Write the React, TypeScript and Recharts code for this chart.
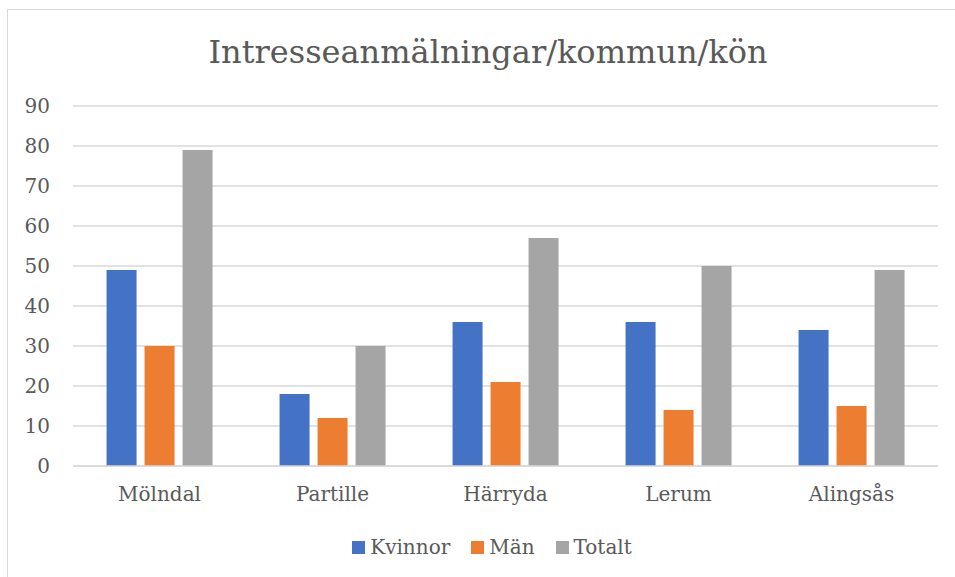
import { BarChart, Bar, XAxis, YAxis, CartesianGrid, Legend } from 'recharts';

const kommuner = ['Mölndal', 'Partille', 'Härryda', 'Lerum', 'Alingsås'];
const kvinnor = [49, 18, 36, 36, 34];
const man = [30, 12, 21, 14, 15];
const totalt = [79, 30, 57, 50, 49];
const yTicks = [0, 10, 20, 30, 40, 50, 60, 70, 80, 90];

const data = kommuner.map((name, i) => ({
  name,
  Kvinnor: kvinnor[i],
  Män: man[i],
  Totalt: totalt[i],
}));

const FONT = '"DejaVu Serif", serif';
const TEXT = '#595959';

function LegendContent({ payload }: any) {
  return (
    <div style={{ display: 'flex', justifyContent: 'center', fontFamily: FONT, fontSize: 20, color: TEXT, lineHeight: '24px' }}>
      {(payload || []).map((p: any, i: number) => (
        <div key={p.value} style={{ display: 'flex', alignItems: 'center', marginLeft: i === 0 ? 0 : 21, fontFamily: FONT }}>
          <span style={{ width: 13, height: 13, background: p.color, display: 'inline-block', marginRight: 5 }} />
          <span style={{ fontFamily: FONT }}>{p.value}</span>
        </div>
      ))}
    </div>
  );
}

export default function App() {
  return (
    <div style={{ position: 'absolute', left: 0, top: 0, width: 955, height: 577, background: '#fff', overflow: 'hidden' }}>
      <div
        style={{
          position: 'absolute',
          left: 7,
          top: 9,
          width: 980,
          height: 600,
          borderTop: '1.5px solid #d9d9d9',
          borderLeft: '1.5px solid #d9d9d9',
        }}
      />
      <div
        style={{
          position: 'absolute',
          left: 0,
          width: 976,
          top: 27,
          textAlign: 'center',
          fontFamily: FONT,
          fontSize: 32,
          color: TEXT,
          lineHeight: '50px',
        }}
      >
        Intresseanmälningar/kommun/kön
      </div>
      <div style={{ position: 'absolute', left: 0, top: 0 }}>
        <BarChart
          width={955}
          height={577}
          data={data}
          margin={{ top: 106, right: 17, bottom: 0, left: 13 }}
          barCategoryGap="19.4%"
          barGap={8}
        >
          <CartesianGrid vertical={false} stroke="#d9d9d9" strokeWidth={1.5} />
          <XAxis
            dataKey="name"
            axisLine={{ stroke: '#d9d9d9', strokeWidth: 1.5 }}
            tickLine={false}
            tickSize={0}
            tickMargin={21}
            height={87}
            tick={{ fill: TEXT, fontFamily: FONT, fontSize: 20 }}
          />
          <YAxis
            width={60}
            domain={[0, 90]}
            ticks={yTicks}
            axisLine={false}
            tickLine={false}
            tickSize={0}
            tickMargin={23}
            tick={{ fill: TEXT, fontFamily: FONT, fontSize: 20 }}
          />
          <Legend
            content={<LegendContent />}
            wrapperStyle={{ top: 535, left: 0, width: 984, fontFamily: FONT }}
          />
          <Bar dataKey="Kvinnor" fill="#4472C4" isAnimationActive={false} />
          <Bar dataKey="Män" fill="#ED7D31" isAnimationActive={false} />
          <Bar dataKey="Totalt" fill="#A5A5A5" isAnimationActive={false} />
        </BarChart>
      </div>
    </div>
  );
}
